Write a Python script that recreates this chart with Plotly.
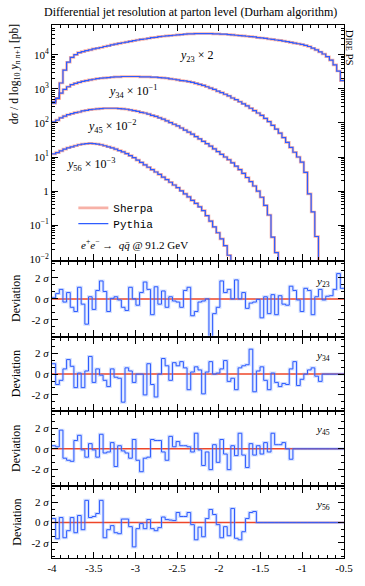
import numpy as np
import plotly.graph_objects as go

# ---------------- data ----------------
x_min, x_max, n_bins = -4.0, -0.5, 80

# log10 of d sigma / d log10(y_{n n+1}) [pb], already scaled as labelled
y23_log10 = [2.62, 2.72, 3.17, 3.55, 3.78, 3.92, 4.00, 4.06, 4.09, 4.12,
             4.14, 4.17, 4.19, 4.21, 4.24, 4.26, 4.29, 4.31, 4.33, 4.35,
             4.37, 4.39, 4.41, 4.43, 4.45, 4.46, 4.48, 4.50, 4.51, 4.53,
             4.54, 4.55, 4.56, 4.57, 4.58, 4.59, 4.60, 4.61, 4.61, 4.62,
             4.62, 4.62, 4.62, 4.62, 4.61, 4.61, 4.60, 4.60, 4.59, 4.58,
             4.57, 4.56, 4.55, 4.54, 4.53, 4.52, 4.50, 4.49, 4.48, 4.46,
             4.45, 4.43, 4.42, 4.40, 4.38, 4.36, 4.34, 4.32, 4.30, 4.27,
             4.24, 4.19, 4.14, 4.08, 4.02, 3.94, 3.84, 3.70, 3.52, 3.24]
y34_log10 = [2.58, 2.72, 2.87, 2.98, 3.06, 3.12, 3.16, 3.19, 3.22, 3.24,
             3.26, 3.28, 3.30, 3.31, 3.32, 3.33, 3.34, 3.35, 3.35, 3.36,
             3.36, 3.36, 3.36, 3.36, 3.35, 3.35, 3.35, 3.34, 3.34, 3.33,
             3.32, 3.31, 3.29, 3.28, 3.26, 3.24, 3.23, 3.21, 3.19, 3.16,
             3.13, 3.10, 3.06, 3.02, 2.98, 2.93, 2.89, 2.84, 2.79, 2.73,
             2.68, 2.62, 2.56, 2.50, 2.43, 2.36, 2.29, 2.22, 2.13, 2.04,
             1.93, 1.82, 1.70, 1.57, 1.43, 1.28, 1.14, 1.00, 0.85, 0.55,
             -0.08, -0.61, -1.33, -2.60, None, None, None, None, None, None]
y45_log10 = [2.03, 2.08, 2.15, 2.20, 2.24, 2.27, 2.30, 2.32, 2.35, 2.37,
             2.39, 2.40, 2.41, 2.42, 2.43, 2.43, 2.43, 2.43, 2.42, 2.41,
             2.40, 2.38, 2.36, 2.34, 2.31, 2.29, 2.26, 2.22, 2.19, 2.15,
             2.11, 2.06, 2.01, 1.96, 1.91, 1.85, 1.79, 1.73, 1.67, 1.60,
             1.53, 1.46, 1.39, 1.32, 1.24, 1.16, 1.08, 1.00, 0.92, 0.83,
             0.73, 0.63, 0.52, 0.40, 0.28, 0.15, 0.00, -0.18, -0.42, -0.70,
             -1.35, -1.80, -2.40, -2.90, -3.40, -3.90, None, None, None, None,
             None, None, None, None, None, None, None, None, None, None]
y56_log10 = [1.09, 1.13, 1.18, 1.23, 1.27, 1.30, 1.33, 1.36, 1.38, 1.39,
             1.40, 1.39, 1.38, 1.36, 1.33, 1.30, 1.27, 1.23, 1.19, 1.15,
             1.10, 1.04, 0.98, 0.91, 0.84, 0.77, 0.70, 0.63, 0.56, 0.49,
             0.41, 0.34, 0.26, 0.18, 0.10, 0.01, -0.08, -0.17, -0.27, -0.36,
             -0.46, -0.57, -0.72, -0.88, -1.05, -1.22, -1.40, -1.60, -1.88, -2.30,
             -2.60, -2.90, -3.20, -3.50, -3.80, -4.10, None, None, None, None,
             None, None, None, None, None, None, None, None, None, None,
             None, None, None, None, None, None, None, None, None, None]

# Pythia deviation from Sherpa, in units of sigma
dev_y23 = [0.1, 0.5, 0.9, -0.3, 0.6, -0.8, -1.2, 1.1, -0.5, -2.4,
           0.2, -1.0, 0.8, 1.7, 0.7, -1.2, 0.05, 0.2, -0.1, -0.8,
           -1.1, 1.1, 0.0, -0.6, 0.6, 1.6, 0.9, -1.5, 1.15, -0.5,
           0.75, -0.8, 0.2, -0.2, -0.3, -0.8, 0.8, 1.1, -1.6, -1.2,
           -0.3, -0.2, 0.0, -3.6, -1.4, -0.8, 1.7, 0.6, 0.9, 0.0,
           1.8, 0.0, 0.6, -0.9, -0.4, -0.3, -0.05, -1.8, 0.2, -1.4,
           0.4, -1.5, 0.3, -0.5, -0.6, 1.2, 0.8, -0.1, -1.2, 1.0,
           0.8, -1.5, 0.2, 0.9, -0.1, 0.25, 0.3, 0.9, 2.4, 1.0]
dev_y34 = [1.0, -1.0, -0.6, 0.5, 1.4, 0.75, -1.3, 0.1, -1.3, 0.3,
           1.7, -0.8, 0.5, -0.1, -0.6, -1.2, 0.5, -0.3, -0.4, -2.7,
           0.6, 0.3, -0.8, 0.0, 0.0, -2.0, 1.0, -1.0, -2.2, 0.0,
           1.5, 0.8, -0.6, 1.1, 0.8, 1.2, 0.6, -1.5, 0.2, 0.7,
           0.4, -1.9, 0.2, 1.2, 0.0, 0.1, 0.5, 1.3, -0.7, -0.4,
           -1.5, 0.6, 0.8, 0.9, 2.4, -1.7, 0.3, 0.7, -0.6, -1.5,
           0.1, -0.8, -1.2, -0.9, -1.0, 0.5, 1.2, -1.1, -0.5, 0.0,
           0.4, 0.6, -0.2, -0.7, 0.0, 0.0, 0.0, 0.0, 0.0, 0.0]
dev_y45 = [0.3, 0.2, 1.8, -0.9, -1.1, -1.2, 0.8, 1.3, -0.1, -0.8,
           0.5, -0.1, -0.8, 1.4, -0.4, -0.3, 0.6, -1.7, 0.3, -0.2,
           -0.4, -0.9, 0.9, -1.1, -2.2, -0.9, -0.8, 0.9, 0.8, 0.8,
           -0.3, -1.1, 1.2, 0.2, 0.7, 0.3, 0.3, 0.2, -0.3, 1.5,
           -0.1, -1.6, -0.3, -2.0, 0.4, -1.3, 0.9, -0.5, -2.0, 0.3,
           -0.65, 1.5, -0.6, -1.8, 0.5, -0.6, 0.3, -0.5, 0.6, -0.3,
           1.5, 0.4, 0.4, 0.6, 0.0, -1.0, 0.0, 0.0, 0.0, 0.0,
           0.0, 0.0, 0.0, 0.0, 0.0, 0.0, 0.0, 0.0, 0.0, 0.0]
dev_y56 = [0.4, -1.6, 0.5, -1.5, -0.8, 0.5, -1.0, 0.7, -0.7, 2.2,
           0.5, 0.6, 0.9, 2.2, -1.5, -0.7, -0.3, -1.0, -1.1, 0.35,
           0.35, -0.4, -2.4, -0.6, -0.1, -0.6, 0.3, -0.6, -0.8, -0.5,
           0.55, 0.3, 0.25, 0.2, 1.0, 0.6, 0.6, 1.0, -0.2, -1.7,
           -0.45, -1.4, 0.4, 1.3, 0.8, -0.2, -1.5, -0.4, -1.3, 1.4,
           -1.55, -1.7, -0.9, 0.4, 1.0, 1.1, 0.0, 0.0, 0.0, 0.0,
           0.0, 0.0, 0.0, 0.0, 0.0, 0.0, 0.0, 0.0, 0.0, 0.0,
           0.0, 0.0, 0.0, 0.0, 0.0, 0.0, 0.0, 0.0, 0.0, 0.0]
sherpa_dev = [0.0] * n_bins

curve_labels = ["<i>y</i><sub>23</sub> × 2", "<i>y</i><sub>34</sub> × 10<sup>−1</sup>",
                "<i>y</i><sub>45</sub> × 10<sup>−2</sup>", "<i>y</i><sub>56</sub> × 10<sup>−3</sup>"]
dev_labels = ["<i>y</i><sub>23</sub>", "<i>y</i><sub>34</sub>", "<i>y</i><sub>45</sub>", "<i>y</i><sub>56</sub>"]
x_tickvals = [-4, -3.5, -3, -2.5, -2, -1.5, -1, -0.5]
x_ticktext = ["-4", "-3.5", "-3", "-2.5", "-2", "-1.5", "-1", "-0.5"]
log_tickvals = [1e-2, 1e-1, 1, 1e1, 1e2, 1e3, 1e4]
log_ticktext = ["10<sup>−2</sup>", "10<sup>−1</sup>", "1", "10<sup>1</sup>",
                "10<sup>2</sup>", "10<sup>3</sup>", "10<sup>4</sup>"]
dev_tickvals = [-2, 0, 2]
dev_ticktext = ["-2 <i>σ</i>", "0 <i>σ</i>", "2 <i>σ</i>"]

# ---------------- layout helpers ----------------
W, H = 365, 586
ML, MR, MT, MB = 52, 12, 25, 19
PW, PH = W - ML - MR, H - MT - MB
def px(x):
    return (x - ML) / PW
def py(y):
    return (H - MB - y) / PH

SERIF = "Liberation Serif"
MONO = "Liberation Mono"
RED = "rgba(238,70,40,1)"
RED_SOFT = "rgba(240,100,80,0.5)"
BLUE = "#2e5cff"
BLUE_SOFT = "rgba(110,150,255,0.30)"

edges = np.linspace(x_min, x_max, n_bins + 1)

def step(vals):
    return list(edges), list(vals) + [vals[-1]]

fig = go.Figure()

curves = [y23_log10, y34_log10, y45_log10, y56_log10]
for k, lv in enumerate(curves):
    vals = [10 ** v if v is not None else None for v in lv]
    xs, ys = step(vals)
    fig.add_trace(go.Scatter(x=xs, y=ys, mode="lines", line=dict(shape="hv", color=RED_SOFT, width=2.6),
                             name="Sherpa", showlegend=(k == 0), legend="legend",
                             xaxis="x", yaxis="y"))
for k, lv in enumerate(curves):
    vals = [10 ** v if v is not None else None for v in lv]
    xs, ys = step(vals)
    fig.add_trace(go.Scatter(x=xs, y=ys, mode="lines", line=dict(shape="hv", color=BLUE, width=1.2),
                             name="Pythia", showlegend=(k == 0), legend="legend2",
                             xaxis="x", yaxis="y"))

devs = [dev_y23, dev_y34, dev_y45, dev_y56]
for i, d in enumerate(devs):
    ax = str(i + 2)
    xs, ys = step(sherpa_dev)
    fig.add_trace(go.Scatter(x=xs, y=ys, mode="lines", line=dict(shape="hv", color=RED, width=1.5),
                             showlegend=False, xaxis="x" + ax, yaxis="y" + ax))
    xs, ys = step(d)
    fig.add_trace(go.Scatter(x=xs, y=ys, mode="lines", line=dict(shape="hv", color=BLUE_SOFT, width=3),
                             showlegend=False, xaxis="x" + ax, yaxis="y" + ax))
    fig.add_trace(go.Scatter(x=xs, y=ys, mode="lines", line=dict(shape="hv", color=BLUE, width=1.0),
                             showlegend=False, xaxis="x" + ax, yaxis="y" + ax))

common = dict(showline=True, linecolor="black", linewidth=1, mirror="allticks", ticks="inside",
              ticklen=6, tickwidth=1, tickcolor="black", showgrid=False, zeroline=False,
              tickfont=dict(family=SERIF, size=11, color="black"))

domains = [(py(264), 1.0), (py(341), py(266)), (py(417), py(343)), (py(493), py(419)), (0.0, py(495))]

minor_log = [k * 10.0 ** e for e in range(-3, 5) for k in range(2, 10)]

leg_common = dict(xanchor="left", yanchor="middle", bgcolor="rgba(0,0,0,0)",
                  font=dict(family=MONO, size=11, color="black"), itemwidth=30)
layout = dict(width=W, height=H, margin=dict(l=ML, r=MR, t=MT, b=MB),
              paper_bgcolor="white", plot_bgcolor="white",
              font=dict(family=SERIF, size=11, color="black"),
              legend=dict(leg_common, x=px(74), y=py(211)),
              legend2=dict(leg_common, x=px(74), y=py(227)))

for i in range(5):
    sfx = "" if i == 0 else str(i + 1)
    xa = dict(common, range=[x_min, x_max], anchor="y" + sfx, domain=[0, 1],
              tickvals=x_tickvals, ticktext=x_ticktext, showticklabels=(i == 4),
              minor=dict(ticks="inside", dtick=0.1, tick0=0, ticklen=3, tickcolor="black", showgrid=False))
    if i > 0:
        xa["matches"] = "x"
    layout["xaxis" + sfx] = xa
    if i == 0:
        ya = dict(common, type="log", range=[-2.02, 4.87], anchor="x", domain=list(domains[0]),
                  tickvals=log_tickvals, ticktext=log_ticktext,
                  minor=dict(ticks="inside", tickvals=minor_log, ticklen=3, tickcolor="black", showgrid=False))
    else:
        ya = dict(common, range=[-3.5, 3.5], anchor="x" + sfx, domain=list(domains[i]),
                  tickvals=dev_tickvals, ticktext=dev_ticktext,
                  minor=dict(ticks="inside", dtick=2 / 3, tick0=0, ticklen=3, tickcolor="black", showgrid=False))
    layout["yaxis" + sfx] = ya

ann = []
def A(text, x, y, size=11, **kw):
    d = dict(text=text, x=x, y=y, xref="paper", yref="paper", showarrow=False,
             xanchor="center", yanchor="middle",
             font=dict(family=SERIF, size=size, color="black"))
    d.update(kw)
    ann.append(d)

A("Differential jet resolution at parton level (Durham algorithm)", px(195), py(12), size=12)
A("D<span style='font-size:8px'>IRE</span> PS", px(360), py(48), size=11, textangle=90)
A("d<i>σ</i> / d log<sub>10</sub> <i>y</i><sub><i>n n</i>+1</sub> [pb]", px(14), py(22),
  size=11.5, textangle=-90, yanchor="top")
label_pos = [(201, 57), (135, 93), (114, 128), (92, 167)]
for t, (lx, ly) in zip(curve_labels, label_pos):
    A(t, px(lx), py(ly), size=12)
A("<i>e</i><sup>+</sup><i>e</i><sup>−</sup> → &nbsp;<i>q</i><i>q̄</i> @ 91.2 GeV", px(80), py(248),
  size=11, xanchor="left")
dev_centers = [303.5, 380, 456, 531]
dev_lab_y = [286, 362, 437, 513]
for t, c, ly in zip(dev_labels, dev_centers, dev_lab_y):
    A("Deviation", px(15), py(c), size=12, textangle=-90)
    A(t, px(331), py(ly), size=11)

layout["annotations"] = ann
fig.update_layout(**layout)
fig.write_html("out.html")
